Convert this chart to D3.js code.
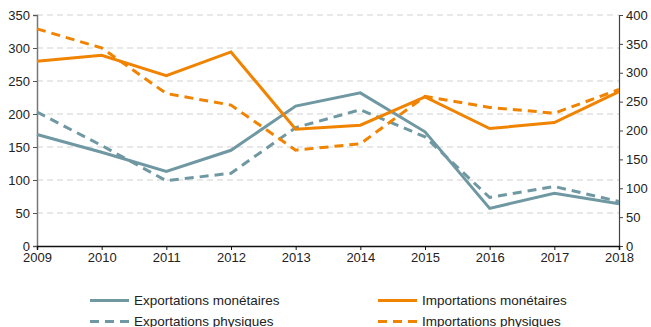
<!DOCTYPE html>
<html>
<head>
<meta charset="utf-8">
<script src="https://cdn.jsdelivr.net/npm/d3@7"></script>
<style>
  html, body { margin: 0; padding: 0; background: #fff; }
  svg { display: block; font-family: "Liberation Sans", Arial, Helvetica, sans-serif; }
</style>
</head>
<body>
<svg id="chart" width="651" height="327"></svg>
<script>
// Années
const years = [2009, 2010, 2011, 2012, 2013, 2014, 2015, 2016, 2017, 2018];

// Flux monétaires (axe de gauche)
const exportationsMonetaires = [169, 142, 113, 145, 212, 232, 173, 57, 80, 64];
const importationsMonetaires = [280, 289, 258, 294, 177, 183, 226, 178, 187, 234];

// Flux physiques (axe de droite)
const exportationsPhysiques = [232, 174, 113, 126, 205, 236, 189, 84, 103, 77];
const importationsPhysiques = [376, 343, 264, 244, 166, 177, 259, 240, 230, 271];

// Graduations
const leftTicks = [0, 50, 100, 150, 200, 250, 300, 350];
const rightTicks = [0, 50, 100, 150, 200, 250, 300, 350, 400];

const seriesLabels = [
  "Exportations monétaires",
  "Importations monétaires",
  "Exportations physiques",
  "Importations physiques"
];

const teal = "#6f98a2";
const orange = "#f08300";

const svg = d3.select("#chart");
const margin = { left: 37, right: 32, top: 15, bottom: 81 };
const W = 651, H = 327;
const x0 = margin.left, x1 = W - margin.right;
const yBottom = H - margin.bottom, yTop = margin.top;

const x = d3.scaleLinear().domain([2009, 2018]).range([x0, x1]);
const yL = d3.scaleLinear().domain([0, 350]).range([yBottom, yTop]);
const yR = d3.scaleLinear().domain([0, 400]).range([yBottom, yTop]);

// Lignes de grille
svg.append("g")
  .selectAll("line")
  .data(leftTicks.filter(d => d > 0))
  .join("line")
  .attr("x1", x0).attr("x2", x1)
  .attr("y1", d => yL(d)).attr("y2", d => yL(d))
  .attr("stroke", "#e1e1e1")
  .attr("stroke-width", 1.5)
  .attr("stroke-dasharray", "6,4");

// Axe gauche
const gL = svg.append("g")
  .attr("transform", `translate(${x0},0)`)
  .call(d3.axisLeft(yL).tickValues(leftTicks).tickSize(4).tickPadding(3));
gL.select(".domain").attr("stroke", "#777").attr("stroke-width", 1.5);
gL.selectAll(".tick line").attr("stroke", "#555");
gL.selectAll("text").attr("font-size", 13).attr("fill", "#222");

// Axe droit
const gR = svg.append("g")
  .attr("transform", `translate(${x1},0)`)
  .call(d3.axisRight(yR).tickValues(rightTicks).tickSize(4).tickPadding(3));
gR.select(".domain").attr("stroke", "#444").attr("stroke-width", 1.2);
gR.selectAll(".tick line").attr("stroke", "#444");
gR.selectAll("text").attr("font-size", 13).attr("fill", "#222");

// Axe des abscisses
const gB = svg.append("g")
  .attr("transform", `translate(0,${yBottom})`)
  .call(d3.axisBottom(x).tickValues(years).tickFormat(d3.format("d")).tickSize(4).tickPadding(3));
gB.select(".domain").attr("stroke", "#111").attr("stroke-width", 1.5);
gB.selectAll(".tick line").attr("stroke", "#111");
gB.selectAll("text").attr("font-size", 13).attr("fill", "#222");

// Courbes
const series = [
  { values: exportationsPhysiques, y: yR, color: teal, dash: "9,6" },
  { values: importationsPhysiques, y: yR, color: orange, dash: "9,6" },
  { values: exportationsMonetaires, y: yL, color: teal, dash: null },
  { values: importationsMonetaires, y: yL, color: orange, dash: null }
];

series.forEach(s => {
  const line = d3.line()
    .x((d, i) => x(years[i]))
    .y(d => s.y(d));
  svg.append("path")
    .datum(s.values)
    .attr("d", line)
    .attr("fill", "none")
    .attr("stroke", s.color)
    .attr("stroke-width", 3)
    .attr("stroke-linejoin", "miter")
    .attr("stroke-dasharray", s.dash);
});

// Légende
const legendItems = [
  { label: seriesLabels[0], color: teal, dash: null, col: 0, row: 0 },
  { label: seriesLabels[1], color: orange, dash: null, col: 1, row: 0 },
  { label: seriesLabels[2], color: teal, dash: "9,6", col: 0, row: 1 },
  { label: seriesLabels[3], color: orange, dash: "9,6", col: 1, row: 1 }
];
const legendX = [90, 378];
const legendY = [300.5, 321.5];

const lg = svg.append("g")
  .selectAll("g")
  .data(legendItems)
  .join("g")
  .attr("transform", d => `translate(${legendX[d.col]},${legendY[d.row]})`);
lg.append("line")
  .attr("x1", 0).attr("x2", 39)
  .attr("y1", 0).attr("y2", 0)
  .attr("stroke", d => d.color)
  .attr("stroke-width", 3)
  .attr("stroke-dasharray", d => d.dash);
lg.append("text")
  .attr("x", 44)
  .attr("y", 0)
  .attr("dy", "0.35em")
  .attr("font-size", 13.5)
  .attr("fill", "#222")
  .text(d => d.label);
</script>
</body>
</html>
